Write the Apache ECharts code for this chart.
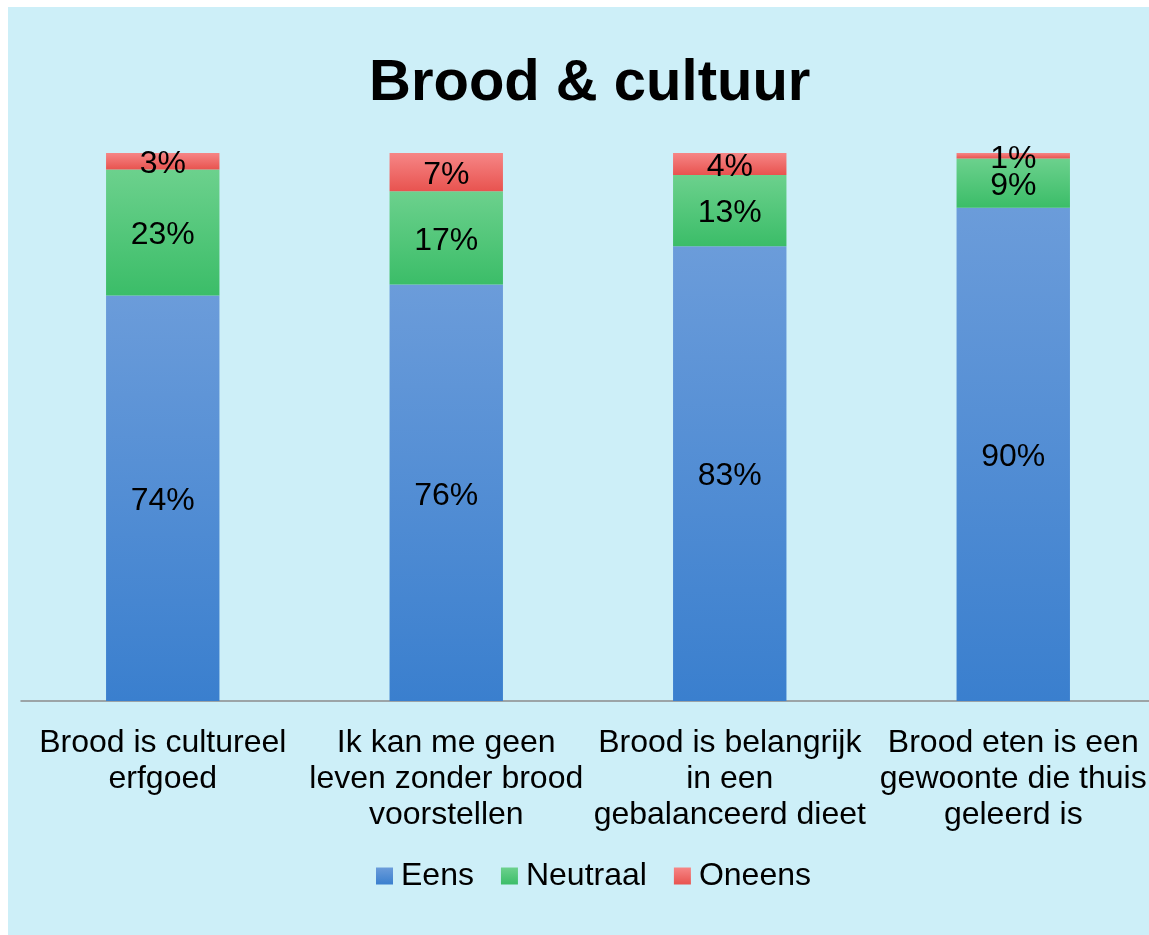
<!DOCTYPE html>
<html>
<head>
<meta charset="utf-8">
<script src="https://cdn.jsdelivr.net/npm/echarts@6/dist/echarts.min.js"></script>
<style>
  html, body { margin: 0; padding: 0; background: #ffffff; overflow: hidden; width: 1149px; height: 935px; }
  #chart { width: 1162px; height: 935px; }
</style>
</head>
<body>
<div id="chart"></div>
<script>
const categories = [
  "Brood is cultureel\nerfgoed",
  "Ik kan me geen\nleven zonder brood\nvoorstellen",
  "Brood is belangrijk\nin een\ngebalanceerd dieet",
  "Brood eten is een\ngewoonte die thuis\ngeleerd is"
];
const eens = [74, 76, 83, 90];
const neutraal = [23, 17, 13, 9];
const oneens = [3, 7, 4, 1];

const FONT = '"Liberation Sans", Arial, sans-serif';

function grad(top, bottom) {
  return new echarts.graphic.LinearGradient(0, 0, 0, 1, [
    { offset: 0, color: top },
    { offset: 1, color: bottom }
  ]);
}

const label = {
  show: true,
  position: 'inside',
  offset: [0, 3],
  formatter: p => p.value + '%',
  color: '#000000',
  fontSize: 32,
  fontFamily: FONT
};

const chart = echarts.init(document.getElementById('chart'), null, { renderer: 'canvas' });
chart.setOption({
  backgroundColor: '#ffffff',
  animation: false,
  graphic: [{
    type: 'rect',
    left: 8, top: 7,
    shape: { width: 1160, height: 928 },
    style: { fill: '#CDEFF8' },
    z: -10, silent: true
  }],
  title: {
    text: 'Brood & cultuur',
    left: 364,
    top: 50,
    textStyle: { fontSize: 58, fontWeight: 'bold', color: '#000000', fontFamily: FONT }
  },
  legend: {
    bottom: 38,
    left: 371,
    itemWidth: 17,
    itemHeight: 17,
    itemGap: 27,
    icon: 'rect',
    textStyle: { fontSize: 32, color: '#000000', fontFamily: FONT, padding: [0, 0, 0, 3] },
    data: ['Eens', 'Neutraal', 'Oneens']
  },
  grid: { left: 21, top: 153, width: 1134, bottom: 234, containLabel: false },
  xAxis: {
    type: 'category',
    data: categories,
    axisLine: { show: true, lineStyle: { color: '#8C8C8C', width: 1.5 } },
    axisTick: { show: false },
    axisLabel: {
      interval: 0,
      margin: 24,
      fontSize: 32,
      lineHeight: 36,
      color: '#000000',
      fontFamily: FONT,
      align: 'center'
    }
  },
  yAxis: {
    type: 'value', min: 0, max: 100, show: false,
    splitLine: { show: false }
  },
  series: [
    { name: 'Eens', type: 'bar', stack: 'a', data: eens, barCategoryGap: '60%',
      itemStyle: { color: grad('#6B9CDA', '#3A7FCE') }, label: label },
    { name: 'Neutraal', type: 'bar', stack: 'a', data: neutraal,
      itemStyle: { color: grad('#6CD18D', '#3BBD68') }, label: label },
    { name: 'Oneens', type: 'bar', stack: 'a', data: oneens,
      itemStyle: { color: grad('#F68686', '#E8534F') }, label: label }
  ]
});
</script>
</body>
</html>
